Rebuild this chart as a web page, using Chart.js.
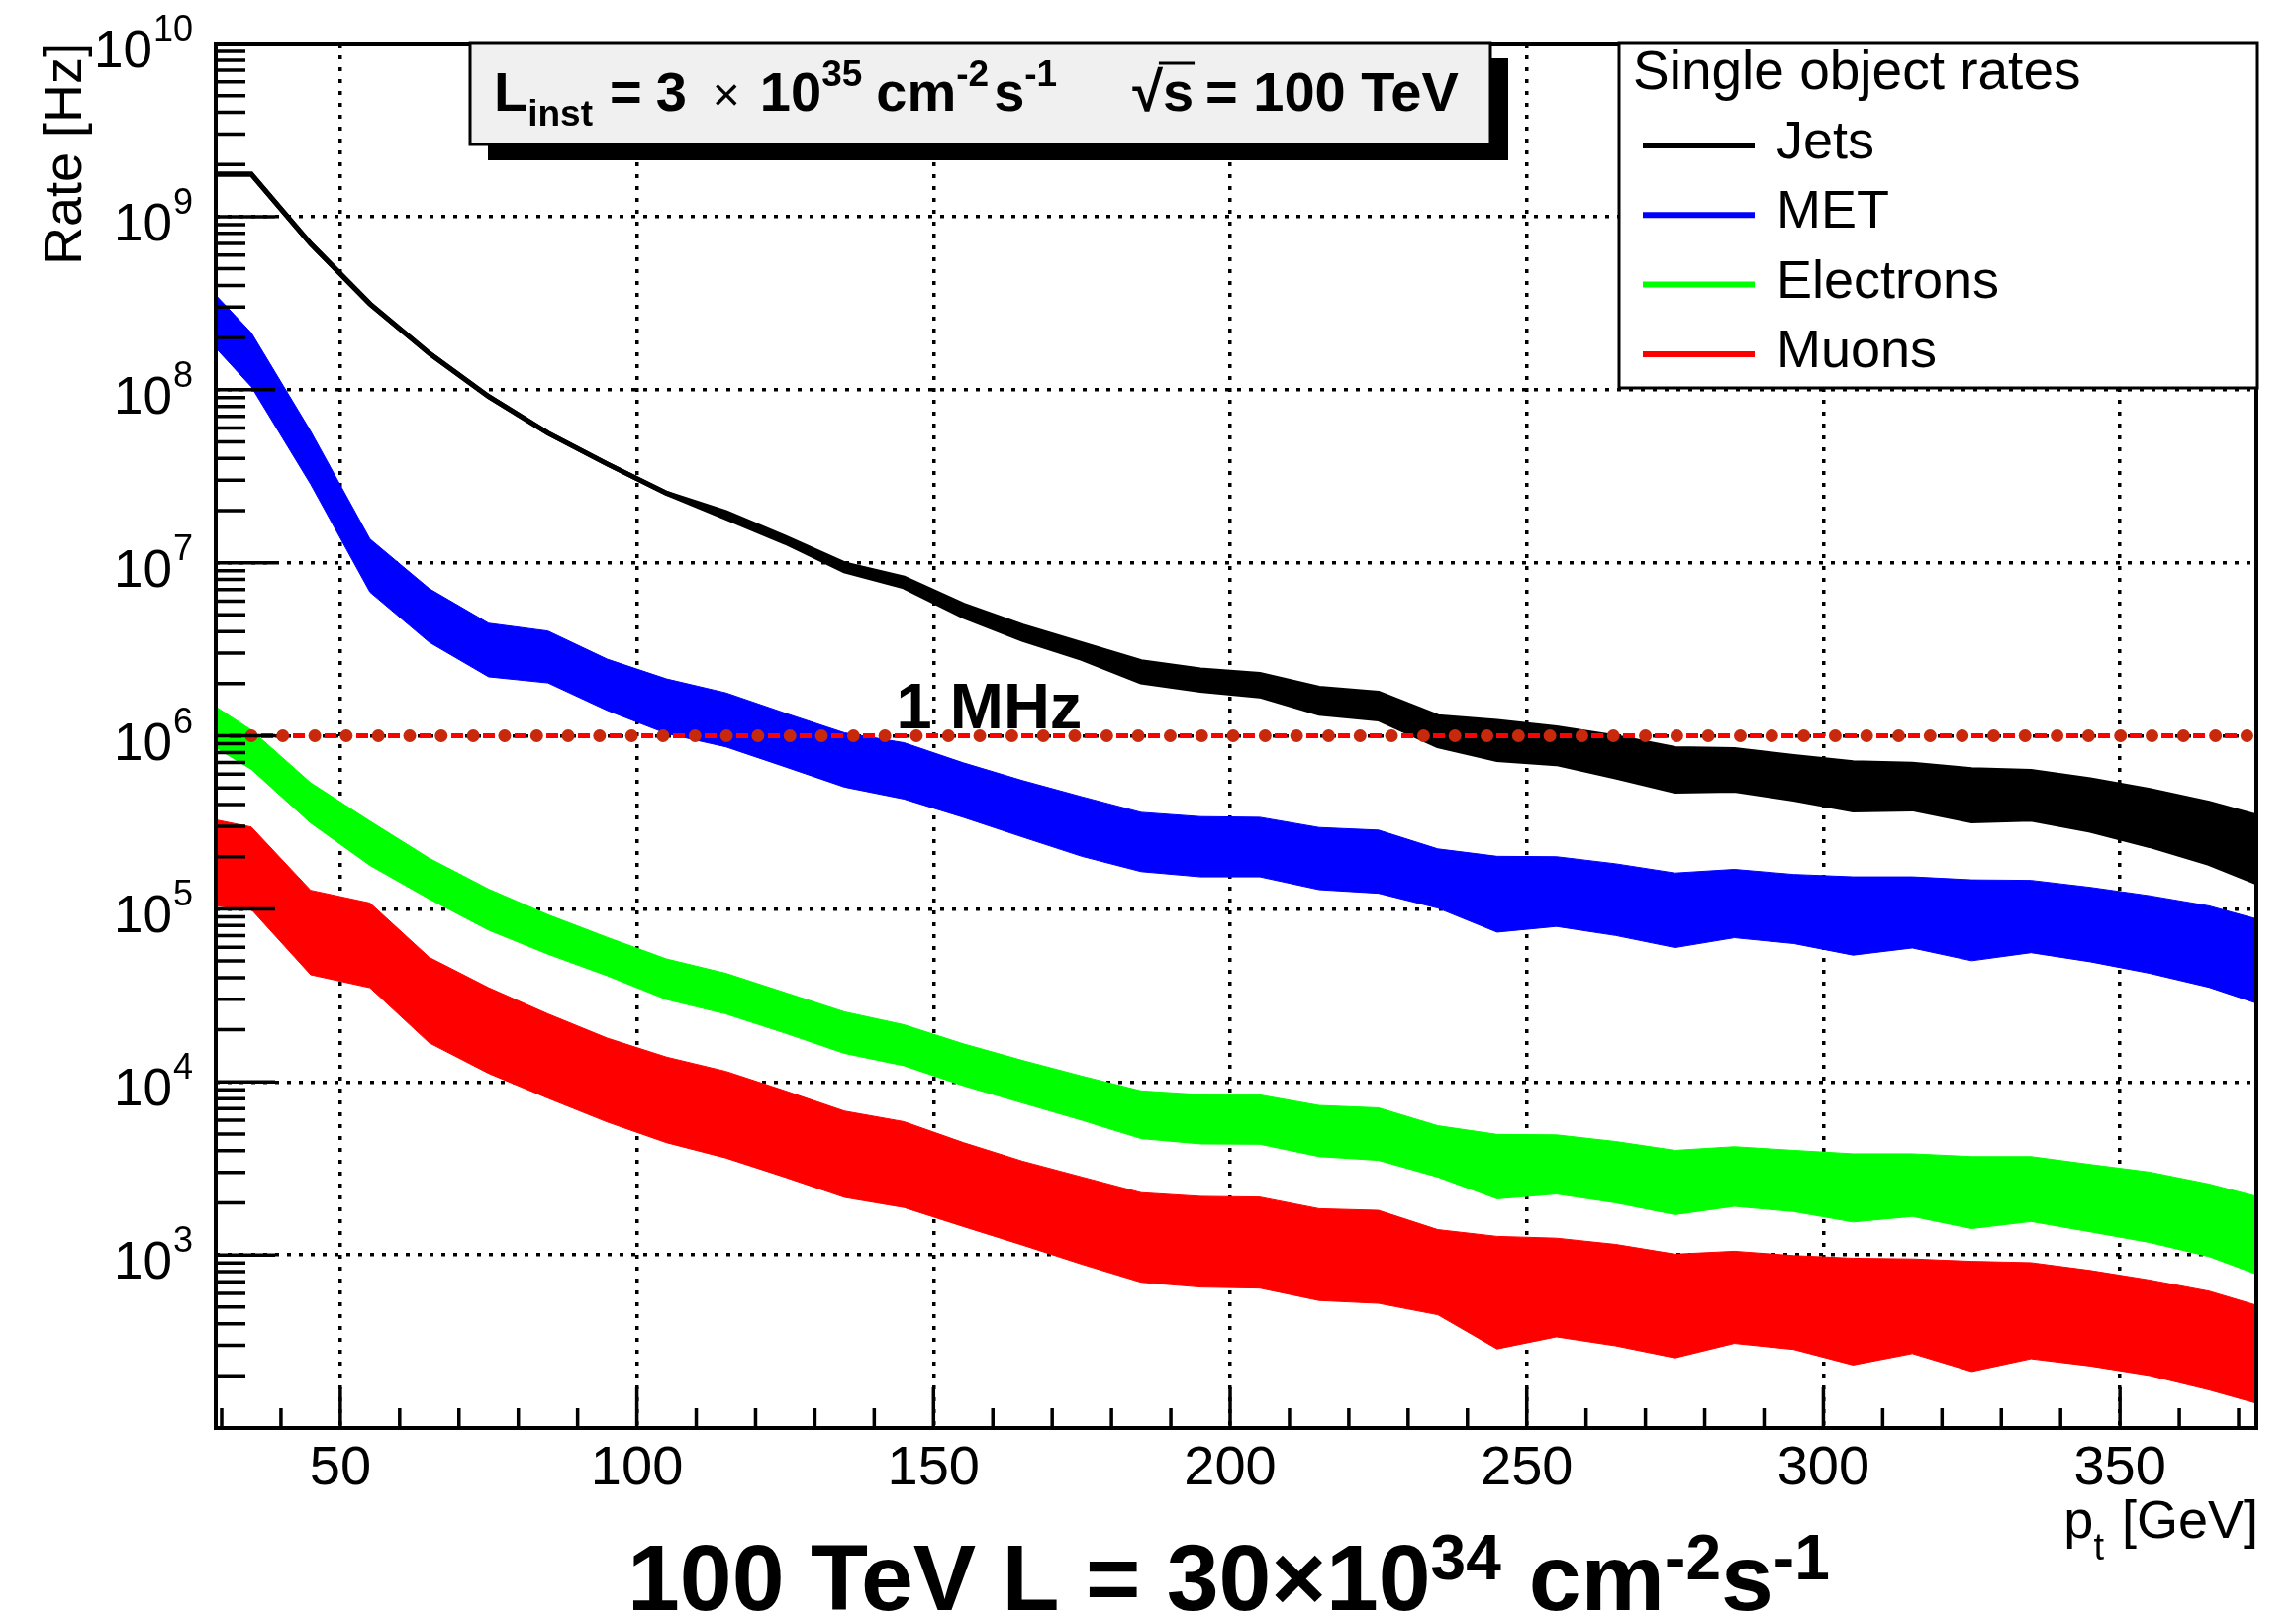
<!DOCTYPE html>
<html>
<head>
<meta charset="utf-8">
<script src="https://cdn.jsdelivr.net/npm/chart.js@4.4.1/dist/chart.umd.min.js"></script>
<style>
html,body{margin:0;padding:0;background:#ffffff;}
canvas{display:block;}
</style>
</head>
<body>
<canvas id="c" width="2320" height="1634"></canvas>
<script>
// ---------------- data ----------------
const ptBins = [29,35,45,55,65,75,85,95,105,115,125,135,145,155,165,175,185,195,205,215,225,235,245,255,265,275,285,295,305,315,325,335,345,355,365,373];

const jetsHigh = [1.76e9,1.76e9,6.97e8,3.13e8,1.62e8,9.12e7,5.61e7,3.72e7,2.52e7,1.95e7,1.40e7,9.84e6,8.15e6,5.70e6,4.30e6,3.40e6,2.68e6,2.40e6,2.26e6,1.88e6,1.76e6,1.29e6,1.21e6,1.11e6,9.84e5,8.43e5,8.32e5,7.59e5,6.98e5,6.85e5,6.37e5,6.22e5,5.56e5,4.83e5,4.08e5,3.43e5];
const jetsLow  = [1.76e9,1.76e9,6.97e8,3.13e8,1.62e8,9.12e7,5.61e7,3.72e7,2.52e7,1.82e7,1.31e7,8.97e6,7.26e6,4.90e6,3.60e6,2.80e6,2.05e6,1.83e6,1.70e6,1.35e6,1.25e6,8.75e5,7.28e5,6.90e5,5.79e5,4.78e5,4.84e5,4.30e5,3.73e5,3.78e5,3.22e5,3.30e5,2.84e5,2.32e5,1.83e5,1.42e5];

const metHigh = [3.52e8,2.13e8,5.75e7,1.37e7,7.08e6,4.47e6,4.03e6,2.77e6,2.13e6,1.77e6,1.35e6,1.04e6,9.12e5,6.98e5,5.51e5,4.44e5,3.61e5,3.41e5,3.38e5,2.95e5,2.85e5,2.22e5,2.01e5,2.00e5,1.82e5,1.61e5,1.69e5,1.58e5,1.53e5,1.53e5,1.47e5,1.46e5,1.33e5,1.19e5,1.04e5,8.75e4];
const metLow  = [1.74e8,1.04e8,2.84e7,6.76e6,3.47e6,2.19e6,2.02e6,1.40e6,1.03e6,8.63e5,6.61e5,5.05e5,4.31e5,3.38e5,2.60e5,2.01e5,1.64e5,1.53e5,1.53e5,1.29e5,1.23e5,1.01e5,7.33e4,7.91e4,7.01e4,5.97e4,6.81e4,6.30e4,5.40e4,5.94e4,5.01e4,5.58e4,4.94e4,4.24e4,3.52e4,2.85e4];

const elHigh = [1.47e6,1.08e6,5.35e5,3.21e5,1.96e5,1.30e5,9.25e4,6.84e4,5.13e4,4.24e4,3.28e4,2.54e4,2.14e4,1.66e4,1.33e4,1.08e4,8.87e3,8.45e3,8.41e3,7.31e3,7.08e3,5.58e3,4.97e3,4.94e3,4.52e3,4.02e3,4.22e3,4.02e3,3.84e3,3.84e3,3.70e3,3.70e3,3.33e3,3.01e3,2.57e3,2.18e3];
const elLow  = [8.53e5,6.40e5,3.13e5,1.78e5,1.14e5,7.53e4,5.47e4,4.10e4,2.99e4,2.47e4,1.91e4,1.46e4,1.24e4,9.51e3,7.55e3,6.00e3,4.70e3,4.38e3,4.36e3,3.70e3,3.52e3,2.82e3,2.11e3,2.25e3,2.00e3,1.71e3,1.91e3,1.78e3,1.55e3,1.67e3,1.42e3,1.56e3,1.36e3,1.18e3,9.79e2,7.74e2];

const muHigh = [3.27e5,2.97e5,1.28e5,1.08e5,5.24e4,3.50e4,2.47e4,1.79e4,1.39e4,1.15e4,8.87e3,6.78e3,5.89e3,4.46e3,3.48e3,2.82e3,2.29e3,2.18e3,2.16e3,1.85e3,1.81e3,1.40e3,1.28e3,1.25e3,1.15e3,1.01e3,1.05e3,9.91e2,9.57e2,9.48e2,9.18e2,9.02e2,8.13e2,7.16e2,6.18e2,5.12e2];
const muLow  = [1.04e5,9.91e4,4.16e4,3.50e4,1.68e4,1.12e4,8.05e3,5.86e3,4.45e3,3.63e3,2.81e3,2.15e3,1.88e3,1.46e3,1.14e3,8.83e2,6.95e2,6.52e2,6.43e2,5.45e2,5.25e2,4.51e2,2.86e2,3.36e2,2.98e2,2.54e2,3.08e2,2.84e2,2.31e2,2.69e2,2.12e2,2.51e2,2.28e2,2.01e2,1.66e2,1.39e2];

const seriesNames  = ['Jets','MET','Electrons','Muons'];
const seriesColors = ['#000000','#0000ff','#00ff00','#ff0000'];

// 1 MHz threshold line and its markers
const mhzRate = 1e6;
const mhzLineX = [29, 373];
const mhzDotsX = [35.0,40.3,45.7,51.0,56.4,61.7,67.0,72.4,77.7,83.1,88.4,93.7,99.1,104.4,109.8,115.1,120.4,125.8,131.1,136.5,141.8,147.1,152.5,157.8,163.2,168.5,173.8,179.2,184.5,189.9,195.2,200.5,205.9,211.2,216.6,221.9,227.2,232.6,237.9,243.3,248.6,253.9,259.3,264.6,270.0,275.3,280.6,286.0,291.3,296.7,302.0,307.3,312.7,318.0,323.4,328.7,334.0,339.4,344.7,350.1,355.4,360.7,366.1,371.4];

// axes
const xRange = [29, 373];
const yRange = [1e2, 1e10];
const xTickValues = [50,100,150,200,250,300,350];
const yDecades = [1e2,1e3,1e4,1e5,1e6,1e7,1e8,1e9,1e10];
const yLabelDecades = [1e3,1e4,1e5,1e6,1e7,1e8,1e9,1e10];

// texts
const yTitle = 'Rate [Hz]';
const legendHeader = 'Single object rates';
const mhzLabel = '1 MHz';

// ---------------- drawing ----------------
const FONT = '"Liberation Sans", Arial, Helvetica, sans-serif';
Chart.defaults.font.family = FONT;
Chart.defaults.color = '#000';

const pts = arr => ptBins.map((x, i) => ({x, y: arr[i]}));

function band(label, hi, lo, color, bw) {
  return [
    {label, data: pts(hi), borderColor: color, backgroundColor: color, borderWidth: bw,
     fill: '+1', pointRadius: 0, tension: 0, clip: 0, isLegend: true},
    {label: label + ' (low)', data: pts(lo), borderColor: color, backgroundColor: color, borderWidth: bw,
     fill: false, pointRadius: 0, tension: 0, clip: 0}
  ];
}

function drawRich(ctx, x, y, segs, align) {
  let w = 0;
  for (const s of segs) { ctx.font = s.f; s.w = ctx.measureText(s.t).width; w += (s.gap || 0) + s.w; }
  let cx = align === 'right' ? x - w : (align === 'center' ? x - w / 2 : x);
  ctx.textAlign = 'left';
  ctx.textBaseline = 'alphabetic';
  for (const s of segs) {
    cx += (s.gap || 0);
    ctx.font = s.f;
    ctx.fillText(s.t, cx, y + (s.dy || 0));
    s.x = cx;
    cx += s.w;
  }
  return segs;
}

const rootStyle = {
  id: 'rootStyle',
  afterDraw(chart) {
    const {ctx, chartArea: a} = chart;
    const xs = chart.scales.x, ys = chart.scales.y;
    ctx.save();
    ctx.fillStyle = '#000';
    ctx.strokeStyle = '#000';

    // inner ticks
    ctx.lineWidth = 3.5;
    ctx.beginPath();
    for (let i = 0; i < yDecades.length - 1; i++) {
      for (let k = 1; k <= 9; k++) {
        const py = ys.getPixelForValue(k * yDecades[i]);
        const len = k === 1 ? 60 : 30;
        ctx.moveTo(a.left, py); ctx.lineTo(a.left + len, py);
      }
    }
    const minorStep = (xTickValues[1] - xTickValues[0]) / 5;
    for (let v = Math.ceil(xRange[0] / minorStep) * minorStep; v <= xRange[1]; v += minorStep) {
      const px = xs.getPixelForValue(v);
      const major = xTickValues.some(t => Math.abs(t - v) < 1e-6);
      ctx.moveTo(px, a.bottom); ctx.lineTo(px, a.bottom - (major ? 41 : 20));
    }
    ctx.stroke();

    // frame
    ctx.lineWidth = 4;
    ctx.strokeRect(a.left, a.top, a.right - a.left, a.bottom - a.top);

    // y tick labels 10^n
    for (const v of yLabelDecades) {
      const py = ys.getPixelForValue(v);
      const e = String(Math.round(Math.log10(v)));
      ctx.textAlign = 'right'; ctx.textBaseline = 'alphabetic';
      ctx.font = '36px ' + FONT;
      const ew = ctx.measureText(e).width;
      ctx.fillText(e, a.left - 23, py - 3);
      ctx.font = '53px ' + FONT;
      ctx.fillText('10', a.left - 23 - ew - 1, py + 24);
    }

    // y title
    ctx.save();
    ctx.translate(82, a.top - 1);
    ctx.rotate(-Math.PI / 2);
    ctx.textAlign = 'right'; ctx.textBaseline = 'alphabetic';
    ctx.font = '54px ' + FONT;
    ctx.fillText(yTitle, 0, 0);
    ctx.restore();

    // x title  p_t [GeV]
    drawRich(ctx, a.right + 2, 1554, [
      {t: 'p', f: '54px ' + FONT},
      {t: 't', f: '38px ' + FONT, dy: 22},
      {t: '[GeV]', f: '54px ' + FONT, gap: 18}
    ], 'right');

    // 1 MHz label
    ctx.font = 'bold 65px ' + FONT;
    ctx.textAlign = 'left'; ctx.textBaseline = 'alphabetic';
    ctx.fillText(mhzLabel, xs.getPixelForValue(143.7), ys.getPixelForValue(mhzRate) - 8);

    // luminosity box with shadow
    const bx = 475, by = 43, bw = 1031, bh = 103;
    ctx.fillStyle = '#000';
    ctx.fillRect(bx + 18, by + 16, bw, bh);
    ctx.fillStyle = '#f0f0f0';
    ctx.fillRect(bx, by, bw, bh);
    ctx.lineWidth = 3;
    ctx.strokeRect(bx, by, bw, bh);
    ctx.fillStyle = '#000';
    const B = 'bold 56px ' + FONT, S = 'bold 37px ' + FONT;
    const segs = drawRich(ctx, 499, 112, [
      {t: 'L', f: B},
      {t: 'inst', f: S, dy: 15},
      {t: '=', f: B, gap: 17},
      {t: '3', f: B, gap: 14},
      {t: '\u00d7', f: '48px ' + FONT, gap: 26},
      {t: '10', f: B, gap: 20},
      {t: '35', f: S, dy: -25},
      {t: 'cm', f: B, gap: 14},
      {t: '-2', f: S, dy: -25},
      {t: 's', f: B, gap: 5},
      {t: '-1', f: S, dy: -25},
      {t: '\u221a', f: B, gap: 76},
      {t: 's', f: B},
      {t: '= 100 TeV', f: B, gap: 12}
    ], 'left');
    const sq = segs[12];
    ctx.lineWidth = 3;
    ctx.beginPath();
    ctx.moveTo(sq.x - 4, 64); ctx.lineTo(sq.x + sq.w + 1, 64);
    ctx.stroke();

    // legend
    const lx = 1636, ly = 43, lw = 645, lh = 349;
    ctx.fillStyle = '#fff';
    ctx.fillRect(lx, ly, lw, lh);
    ctx.lineWidth = 3;
    ctx.strokeRect(lx, ly, lw, lh);
    ctx.fillStyle = '#000';
    ctx.textAlign = 'left'; ctx.textBaseline = 'alphabetic';
    ctx.font = '55px ' + FONT;
    ctx.fillText(legendHeader, lx + 14, 90);
    const entries = chart.data.datasets.filter(d => d.isLegend);
    entries.forEach((d, i) => {
      const yy = 147 + i * 70.3;
      ctx.strokeStyle = d.borderColor;
      ctx.lineWidth = 6;
      ctx.beginPath(); ctx.moveTo(1660, yy); ctx.lineTo(1773, yy); ctx.stroke();
      ctx.fillStyle = '#000';
      ctx.font = '54px ' + FONT;
      ctx.fillText(d.label, 1795, yy + 13);
    });

    // bottom title
    ctx.fillStyle = '#000';
    const T = 'bold 95px ' + FONT, TS = 'bold 64px ' + FONT;
    drawRich(ctx, 634, 1627, [
      {t: '100 TeV L = 30', f: T},
      {t: '\u00d7', f: T},
      {t: '10', f: T},
      {t: '34', f: TS, dy: -31},
      {t: 'cm', f: T, gap: 28},
      {t: '-2', f: TS, dy: -31},
      {t: 's', f: T},
      {t: '-1', f: TS, dy: -31}
    ], 'left');

    ctx.restore();
  }
};

const datasets = [
  {label: '1 MHz markers', data: mhzDotsX.map(x => ({x, y: mhzRate})), showLine: false,
   pointRadius: 6.5, pointBackgroundColor: '#c8280c', pointBorderColor: '#c8280c', pointBorderWidth: 0, pointHoverRadius: 0},
  {label: '1 MHz', data: mhzLineX.map(x => ({x, y: mhzRate})), borderColor: '#ff0000', borderWidth: 5,
   borderDash: [12, 20], borderDashOffset: 18, pointRadius: 0, fill: false},
  ...band(seriesNames[0], jetsHigh, jetsLow, seriesColors[0], 5),
  ...band(seriesNames[1], metHigh, metLow, seriesColors[1], 1),
  ...band(seriesNames[2], elHigh, elLow, seriesColors[2], 1),
  ...band(seriesNames[3], muHigh, muLow, seriesColors[3], 1)
];

new Chart(document.getElementById('c'), {
  type: 'line',
  data: {datasets},
  options: {
    responsive: false,
    animation: false,
    devicePixelRatio: 1,
    layout: {padding: {left: 218, right: 40, top: 44, bottom: 91}},
    plugins: {legend: {display: false}, tooltip: {enabled: false}, title: {display: false}},
    scales: {
      x: {
        type: 'linear', min: xRange[0], max: xRange[1],
        afterBuildTicks: s => { s.ticks = xTickValues.map(v => ({value: v})); },
        afterFit: s => { s.height = 100; },
        ticks: {font: {size: 56, family: FONT}, color: '#000', padding: 8, maxRotation: 0, autoSkip: false,
                callback: v => String(v)},
        grid: {color: '#000', lineWidth: 3.5, drawTicks: false, tickLength: 0},
        border: {display: false, dash: [4, 8]}
      },
      y: {
        type: 'logarithmic', min: yRange[0], max: yRange[1],
        afterBuildTicks: s => { s.ticks = yDecades.map(v => ({value: v})); },
        afterFit: s => { s.width = 0; },
        ticks: {display: false},
        grid: {color: c => (c.tick && (c.tick.value === yRange[0] || c.tick.value === yRange[1])) ? 'rgba(0,0,0,0)' : '#000',
               lineWidth: 3.5, drawTicks: false, tickLength: 0},
        border: {display: false, dash: [4, 8]}
      }
    }
  },
  plugins: [rootStyle]
});
</script>
</body>
</html>
